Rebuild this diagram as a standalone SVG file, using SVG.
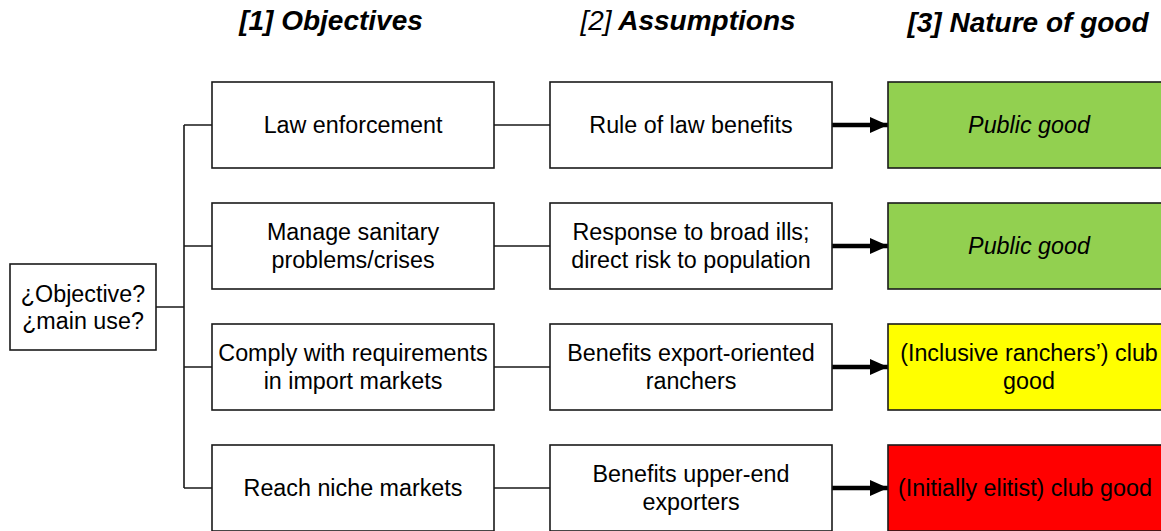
<svg xmlns="http://www.w3.org/2000/svg" width="1161" height="531" viewBox="0 0 1161 531">
<defs>
<style>
.box{fill:#fff;stroke:#1a1a1a;stroke-width:1.6}
.t{font-family:"Liberation Sans",Arial,sans-serif;font-size:23.3px;fill:#000;text-anchor:middle}
.it{font-style:italic}
.h{font-family:"Liberation Sans",Arial,sans-serif;font-size:28px;font-style:italic;font-weight:bold;fill:#000;text-anchor:middle}
.ln{fill:none;stroke:#1a1a1a;stroke-width:1.6}
.ar{fill:none;stroke:#000;stroke-width:4.5}
</style>
<marker id="ah" markerUnits="userSpaceOnUse" markerWidth="18" markerHeight="16" refX="18" refY="8" orient="auto">
<path d="M0,0 L18,8 L0,16 Z" fill="#000"/>
</marker>
</defs>
<rect width="1161" height="531" fill="#fff"/>
<g id="titles">
<text class="h" x="331" y="30">[1] Objectives</text>
<text class="h" x="688" y="30"><tspan font-weight="normal">[2]</tspan> Assumptions</text>
<text class="h" x="1028" y="32">[3] Nature of good</text>
</g>
<g id="connectors">
<path class="ln" d="M156,307 H184 M184,125 V488 M184,125 H212 M184,246 H212 M184,367 H212 M184,488 H212"/>
<path class="ln" d="M494,125 H550 M494,246 H550 M494,367 H550 M494,488 H550"/>
<line class="ar" x1="832" y1="125" x2="888" y2="125" marker-end="url(#ah)"/>
<line class="ar" x1="832" y1="246" x2="888" y2="246" marker-end="url(#ah)"/>
<line class="ar" x1="832" y1="367" x2="888" y2="367" marker-end="url(#ah)"/>
<line class="ar" x1="832" y1="488" x2="888" y2="488" marker-end="url(#ah)"/>
</g>
<g id="root">
<rect class="box" x="10" y="264" width="146" height="86"/>
<text class="t" x="83" y="302">¿Objective?</text>
<text class="t" x="83" y="329">¿main use?</text>
</g>
<g id="obj1"><rect class="box" x="212" y="82" width="282" height="86"/><text class="t" x="353" y="133">Law enforcement</text></g>
<g id="obj2"><rect class="box" x="212" y="203" width="282" height="86"/><text class="t" x="353" y="240">Manage sanitary</text><text class="t" x="353" y="268">problems/crises</text></g>
<g id="obj3"><rect class="box" x="212" y="324" width="282" height="86"/><text class="t" x="353" y="361">Comply with requirements</text><text class="t" x="353" y="389">in import markets</text></g>
<g id="obj4"><rect class="box" x="212" y="445" width="282" height="86"/><text class="t" x="353" y="496">Reach niche markets</text></g>
<g id="asm1"><rect class="box" x="550" y="82" width="282" height="86"/><text class="t" x="691" y="133">Rule of law benefits</text></g>
<g id="asm2"><rect class="box" x="550" y="203" width="282" height="86"/><text class="t" x="691" y="240">Response to broad ills;</text><text class="t" x="691" y="268">direct risk to population</text></g>
<g id="asm3"><rect class="box" x="550" y="324" width="282" height="86"/><text class="t" x="691" y="361">Benefits export-oriented</text><text class="t" x="691" y="389">ranchers</text></g>
<g id="asm4"><rect class="box" x="550" y="445" width="282" height="86"/><text class="t" x="691" y="482">Benefits upper-end</text><text class="t" x="691" y="510">exporters</text></g>
<g id="good1"><rect class="box" x="888" y="82" width="282" height="86" style="fill:#92D050"/><text class="t it" x="1029" y="133">Public good</text></g>
<g id="good2"><rect class="box" x="888" y="203" width="282" height="86" style="fill:#92D050"/><text class="t it" x="1029" y="254">Public good</text></g>
<g id="good3"><rect class="box" x="888" y="324" width="282" height="86" style="fill:#FFFF00"/><text class="t" x="1029" y="361">(Inclusive ranchers’) club</text><text class="t" x="1029" y="389">good</text></g>
<g id="good4"><rect class="box" x="888" y="445" width="282" height="86" style="fill:#FF0000"/><text class="t" x="1025" y="496">(Initially elitist) club good</text></g>
</svg>
